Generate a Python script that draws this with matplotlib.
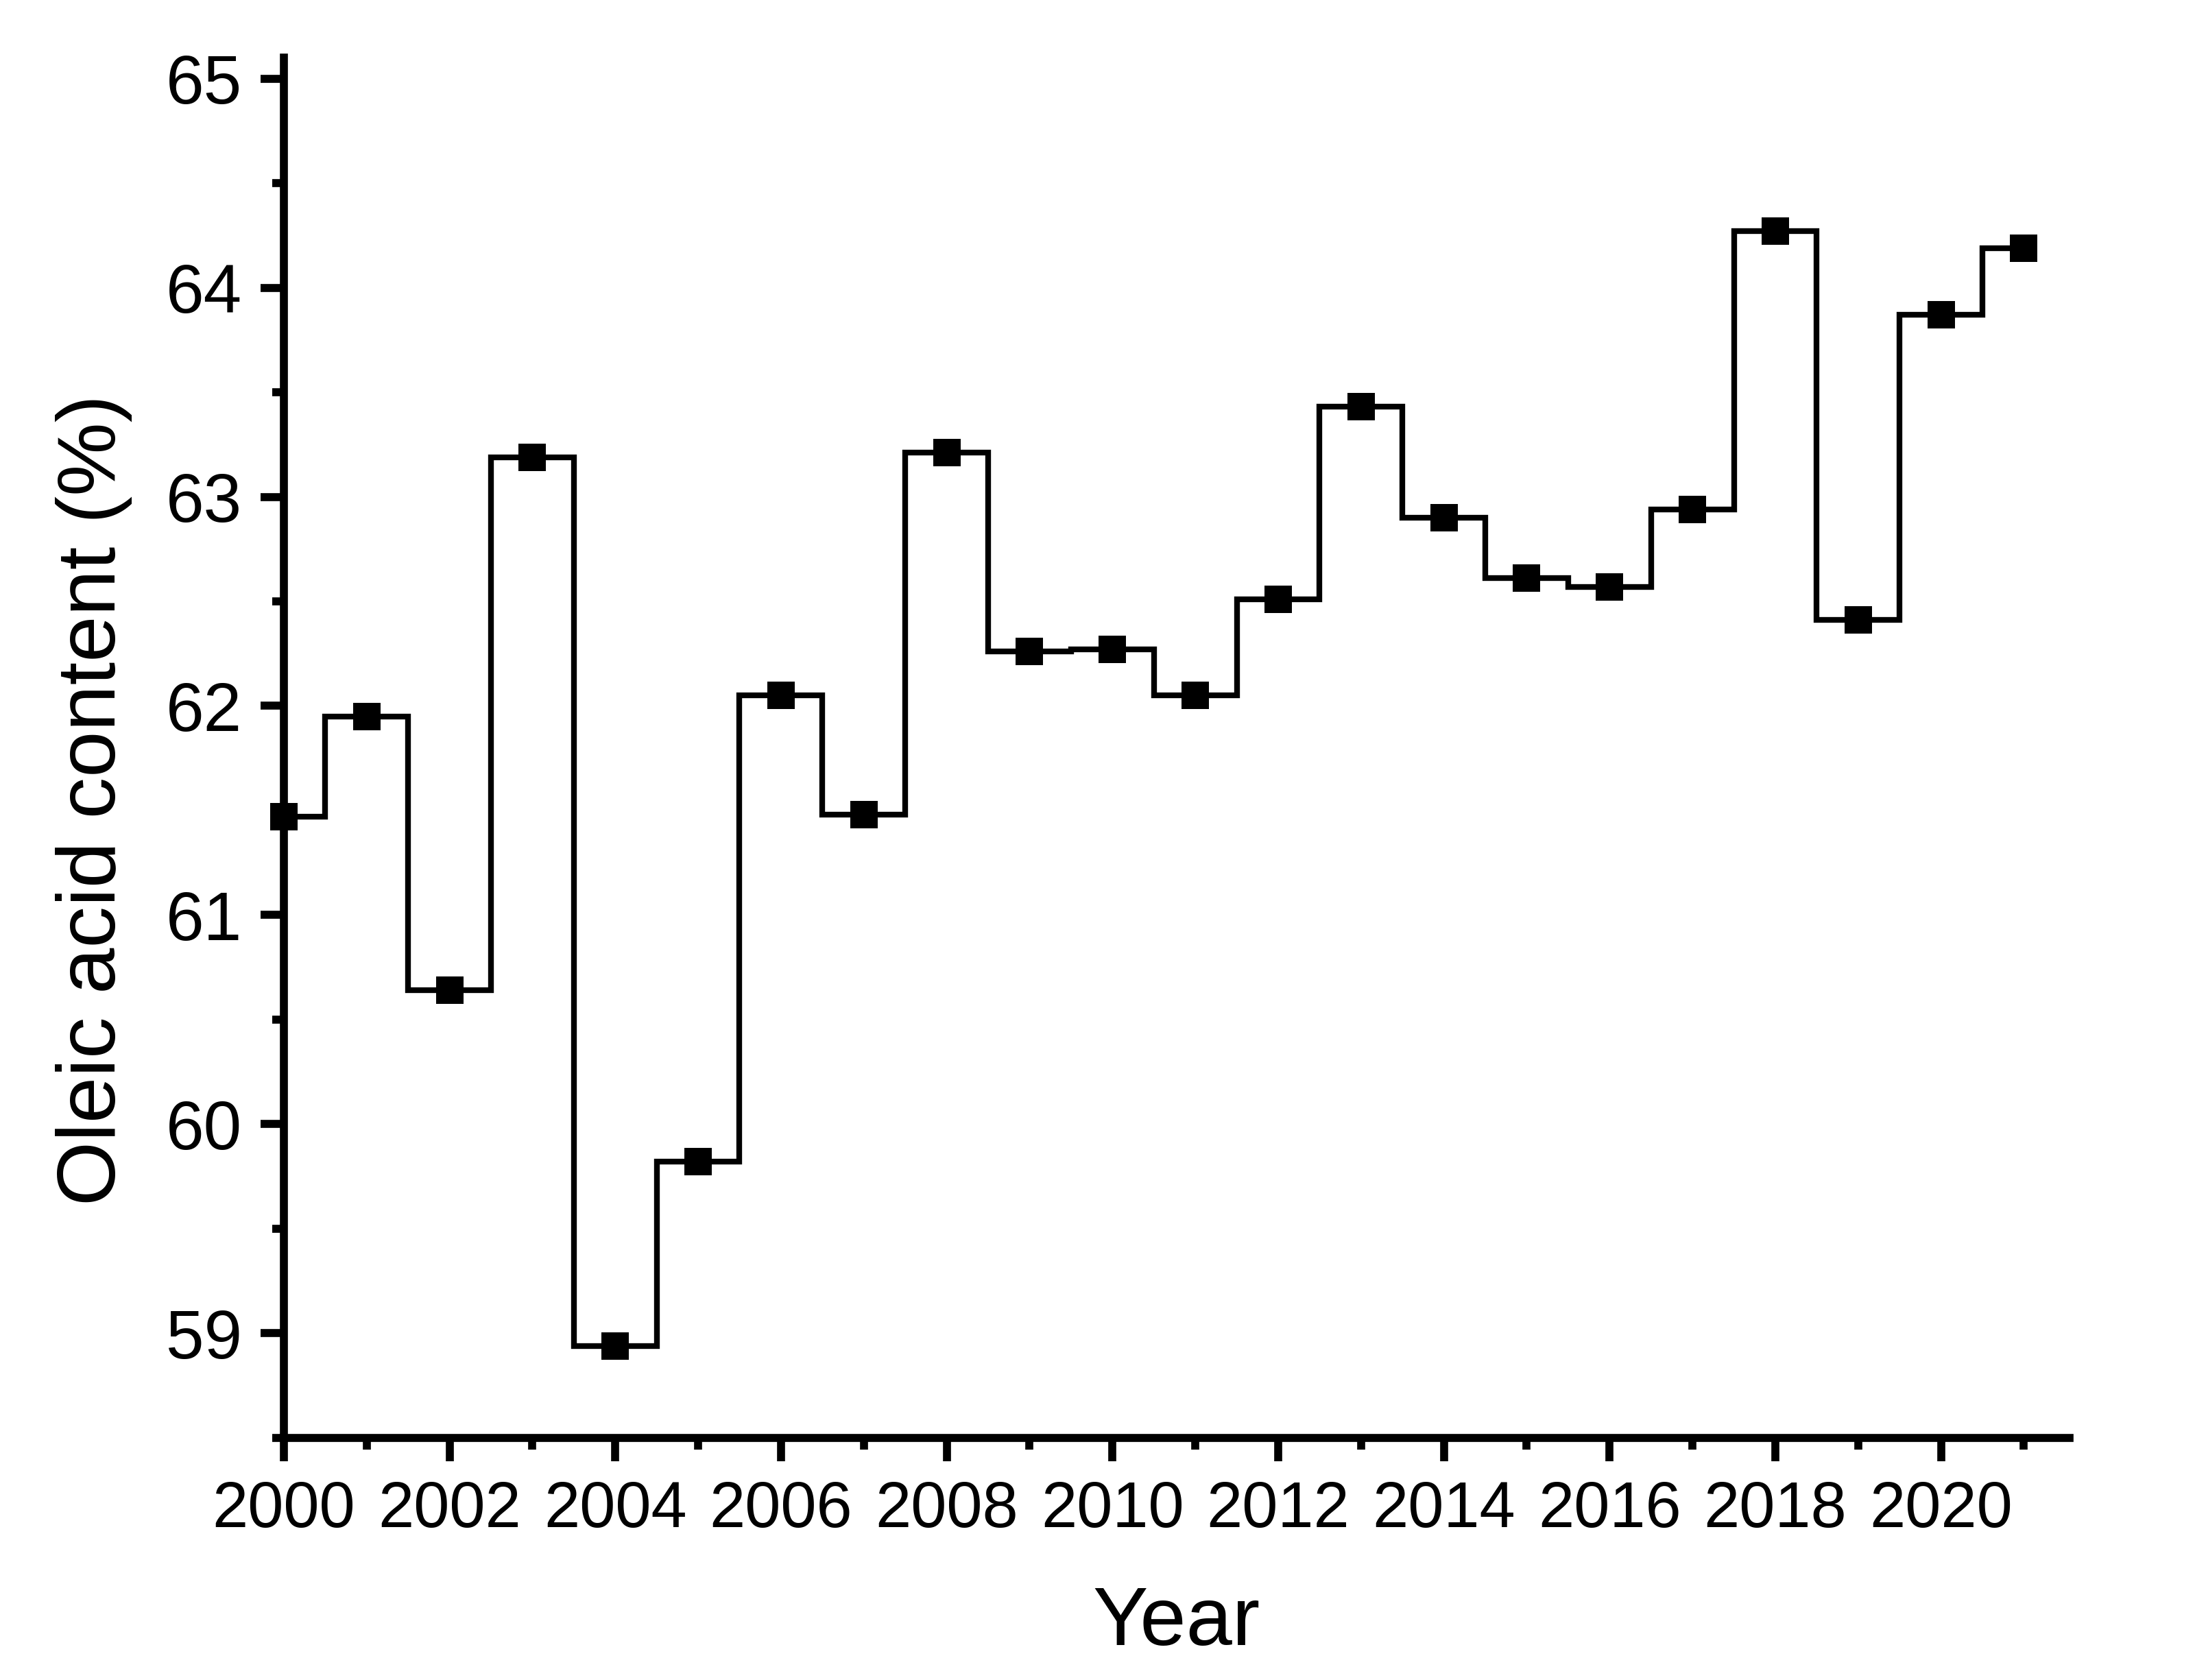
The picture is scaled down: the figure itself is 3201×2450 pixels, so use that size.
import matplotlib
matplotlib.use("Agg")
import matplotlib.pyplot as plt
from matplotlib.ticker import MultipleLocator

# Oleic acid content per year
years = [2000, 2001, 2002, 2003, 2004, 2005, 2006, 2007, 2008, 2009, 2010,
         2011, 2012, 2013, 2014, 2015, 2016, 2017, 2018, 2019, 2020, 2021]
oleic = [61.47, 61.95, 60.64, 63.19, 58.94, 59.82, 62.05, 61.48, 63.21, 62.26, 62.27,
         62.05, 62.51, 63.43, 62.90, 62.61, 62.57, 62.94, 64.27, 62.41, 63.87, 64.19]
x_ticks = list(range(2000, 2021, 2))
y_ticks = [59, 60, 61, 62, 63, 64, 65]

plt.rcParams['font.family'] = ['Liberation Sans', 'DejaVu Sans']

fig = plt.figure(figsize=(3201 / 300, 2450 / 300), dpi=300)
ax = fig.add_axes([0.1293, 0.1441, 0.9428 - 0.1293, 0.9657 - 0.1441])

ax.plot(years, oleic, drawstyle='steps-mid', color='black', linewidth=2.0,
        solid_joinstyle='miter', zorder=3)
ax.plot(years, oleic, linestyle='none', marker='s', markersize=9.6,
        markerfacecolor='black', markeredgewidth=0, color='black',
        clip_on=False, zorder=4)

ax.set_xlim(2000, 2021.55)
ax.set_ylim(58.5, 65.1)
ax.set_xticks(x_ticks)
ax.set_yticks(y_ticks)
ax.xaxis.set_minor_locator(MultipleLocator(1))
ax.yaxis.set_minor_locator(MultipleLocator(0.5))

for side in ['top', 'right']:
    ax.spines[side].set_visible(False)
for side in ['left', 'bottom']:
    ax.spines[side].set_linewidth(2.8)
    ax.spines[side].set_capstyle('projecting')

ax.tick_params(which='major', direction='out', length=8.2, width=2.8)
ax.tick_params(which='minor', direction='out', length=4.0, width=2.8)
ax.tick_params(axis='y', which='major', labelsize=24, pad=6.5)
ax.tick_params(axis='x', which='major', labelsize=22.5, pad=6.5)

ax.set_xlabel('Year', fontsize=29)
ax.set_ylabel('Oleic acid content (%)', fontsize=29)
ax.xaxis.set_label_coords(0.5, -0.107)
ax.yaxis.set_label_coords(-0.085, 0.462)

fig.savefig('out.png', dpi=300, facecolor='white')
